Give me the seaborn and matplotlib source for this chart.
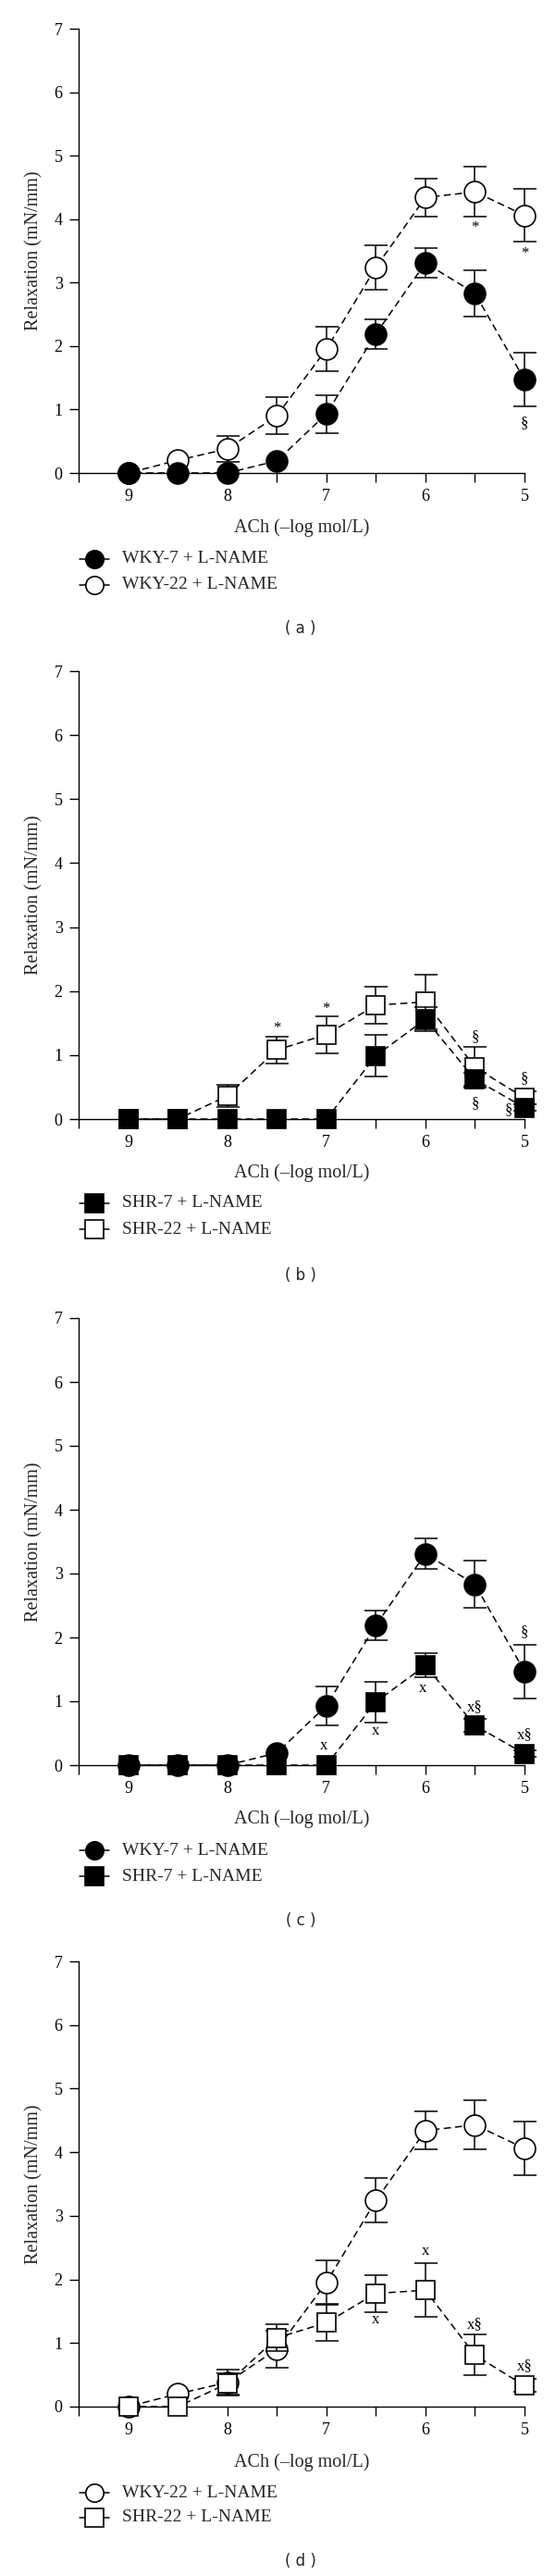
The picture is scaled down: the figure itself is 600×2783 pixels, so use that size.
import numpy as np
import pandas as pd
import matplotlib
matplotlib.use("Agg")
import matplotlib.pyplot as plt
import seaborn as sns
from matplotlib.lines import Line2D

# ---------------- data ----------------
conc = [9, 8.5, 8, 7.5, 7, 6.5, 6, 5.5, 5]
wky7 = [0, 0, 0, 0.19, 0.93, 2.19, 3.31, 2.83, 1.47]
wky7_sem = [0, 0, 0, 0, 0.30, 0.23, 0.24, 0.37, 0.42]
wky22 = [0, 0.20, 0.38, 0.90, 1.95, 3.24, 4.34, 4.43, 4.06]
wky22_sem = [0, 0, 0.20, 0.29, 0.35, 0.35, 0.30, 0.39, 0.42]
shr7 = [0, 0, 0, 0, 0, 0.99, 1.56, 0.62, 0.18]
shr7_sem = [0, 0, 0, 0, 0, 0.32, 0.19, 0.10, 0.05]
shr22 = [0, 0, 0.36, 1.08, 1.32, 1.78, 1.83, 0.81, 0.33]
shr22_sem = [0, 0, 0.17, 0.21, 0.29, 0.29, 0.42, 0.32, 0.10]

x_ticks = [9, 8, 7, 6, 5]
y_ticks = [0, 1, 2, 3, 4, 5, 6, 7]
xlabel = "ACh (\u2013log mol/L)"
ylabel = "Relaxation (mN/mm)"

series = {
    "WKY-7 + L-NAME": dict(y=wky7, e=wky7_sem, marker="o", fill="black"),
    "WKY-22 + L-NAME": dict(y=wky22, e=wky22_sem, marker="o", fill="white"),
    "SHR-7 + L-NAME": dict(y=shr7, e=shr7_sem, marker="s", fill="black"),
    "SHR-22 + L-NAME": dict(y=shr22, e=shr22_sem, marker="s", fill="white"),
}

# panels: (letter, draw order bottom->top, legend order, annotations)
panels = [
    ("a", ["WKY-22 + L-NAME", "WKY-7 + L-NAME"], ["WKY-7 + L-NAME", "WKY-22 + L-NAME"],
     [(5.5, 3.86, "*"), (5.0, 3.46, "*"), (5.0, 0.79, "\u00a7")]),
    ("b", ["SHR-22 + L-NAME", "SHR-7 + L-NAME"], ["SHR-7 + L-NAME", "SHR-22 + L-NAME"],
     [(7.5, 1.42, "*"), (7.0, 1.72, "*"), (5.5, 1.29, "\u00a7"), (5.5, 0.25, "\u00a7"),
      (5.0, 0.64, "\u00a7"), (5.16, 0.15, "\u00a7")]),
    ("c", ["SHR-7 + L-NAME", "WKY-7 + L-NAME"], ["WKY-7 + L-NAME", "SHR-7 + L-NAME"],
     [(7.03, 0.31, "x"), (6.5, 0.54, "x"), (6.03, 1.20, "x"), (5.5, 0.91, "x\u00a7"),
      (5.0, 0.47, "x\u00a7"), (5.0, 2.08, "\u00a7")]),
    ("d", ["WKY-22 + L-NAME", "SHR-22 + L-NAME"], ["WKY-22 + L-NAME", "SHR-22 + L-NAME"],
     [(6.0, 2.44, "x"), (6.5, 1.37, "x"), (5.5, 1.29, "x\u00a7"), (5.0, 0.64, "x\u00a7")]),
]

# ---------------- layout (pixels) ----------------
W, H = 600, 2783
ax_left, ax_right = 85, 567
ax_tops = [31, 725, 1424, 2119]
ax_bots = [511, 1209, 1907, 2600]
xlab_y = [570, 1267, 1965, 2660]
leg_y = [(604, 632), (1300, 1328), (1999, 2027), (2693, 2720)]
letter_y = [679, 1378, 2075, 2767]

sns.set_theme(style="ticks")
plt.rcParams["font.family"] = ["Liberation Serif", "DejaVu Serif"]
plt.rcParams["axes.linewidth"] = 1.0
plt.rcParams["xtick.major.width"] = 1.0
plt.rcParams["ytick.major.width"] = 1.0
plt.rcParams["xtick.major.size"] = 7.5
plt.rcParams["ytick.major.size"] = 7.5
plt.rcParams["xtick.color"] = "black"
plt.rcParams["ytick.color"] = "black"
plt.rcParams["axes.edgecolor"] = "black"

fig = plt.figure(figsize=(W / 100, H / 100), dpi=100)

MS = {"o": 16.5, "s": 14.5}
LEG_MS = {"o": 14, "s": 14}

for i, (letter, order, leg_order, annots) in enumerate(panels):
    top, bot = ax_tops[i], ax_bots[i]
    ax = fig.add_axes([ax_left / W, 1 - bot / H, (ax_right - ax_left) / W, (bot - top) / H])
    z = 3
    for name in order:
        s = series[name]
        df = pd.DataFrame({"conc": conc, "val": s["y"], "sem": s["e"]})
        de = df[df["sem"] > 0]
        ax.errorbar(de["conc"], de["val"], yerr=de["sem"], fmt="none", ecolor="black",
                    elinewidth=1.1, capsize=9, capthick=1.1, zorder=z, clip_on=False)
        sns.lineplot(data=df, x="conc", y="val", ax=ax, color="black", errorbar=None,
                     linestyle=(0, (5, 3)), linewidth=1.1, marker=s["marker"],
                     markersize=MS[s["marker"]], markerfacecolor=s["fill"],
                     markeredgecolor="black", markeredgewidth=1.2, clip_on=False,
                     zorder=z + 1)
        z += 2
    for (xa, ya, t) in annots:
        ax.text(xa, ya, t, ha="center", va="center", fontsize=12, color="black", zorder=10)

    ax.set_xlim(9.5, 5)
    ax.set_ylim(0, 7)
    ax.set_xticks(np.arange(5, 9.51, 0.5))
    ax.set_xticklabels([str(int(v)) if float(v).is_integer() else "" for v in np.arange(5, 9.51, 0.5)])
    ax.set_yticks(y_ticks)
    ax.set_yticklabels([str(v) for v in y_ticks])
    ax.tick_params(axis="x", labelsize=13, pad=5, direction="out")
    ax.tick_params(axis="y", labelsize=13, pad=5, direction="out")
    ax.set_xlabel("")
    ax.set_ylabel(ylabel, fontsize=14.5, labelpad=9)
    sns.despine(ax=ax)

    fig.text((ax_left + ax_right) / 2 / W, 1 - xlab_y[i] / H, xlabel, ha="center", va="center",
             fontsize=14.5)
    for name, ly in zip(leg_order, leg_y[i]):
        s = series[name]
        yf = 1 - ly / H
        fig.add_artist(Line2D([86 / W, 118 / W], [yf, yf], color="black", linewidth=1.1,
                              transform=fig.transFigure))
        fig.add_artist(Line2D([102 / W], [yf], marker=s["marker"], markersize=LEG_MS[s["marker"]],
                              markerfacecolor=s["fill"], markeredgecolor="black",
                              markeredgewidth=1.2, linestyle="none", transform=fig.transFigure))
        fig.text(132 / W, yf, name, ha="left", va="center", fontsize=14)
    fig.text(325 / W, 1 - letter_y[i] / H, "( %s )" % letter, ha="center", va="center",
             fontsize=12, family=["DejaVu Sans"])

fig.savefig("out.png", dpi=100, facecolor="white")
